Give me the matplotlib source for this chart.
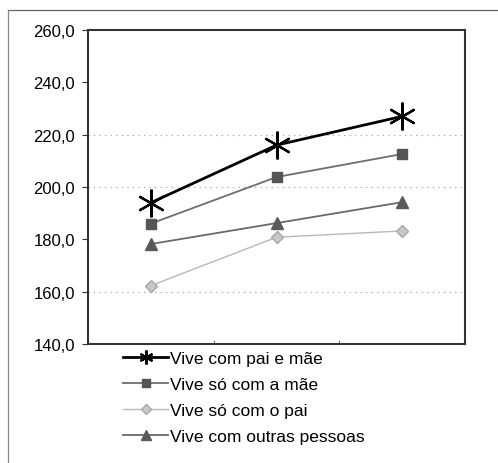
import matplotlib.pyplot as plt
import matplotlib.lines as mlines

plt.rcParams['font.family'] = ['Liberation Sans', 'DejaVu Sans']

periodos = ['1', '2', '3']
pai_e_mae = [194.0, 216.0, 227.0]
so_mae = [186.0, 203.8, 212.6]
so_pai = [162.3, 180.8, 183.2]
outras = [178.2, 186.2, 194.2]
linhas_grade = [160, 200, 220]

asterisco = (6, 2, 0)
series = [
    ('Vive com pai e mãe', pai_e_mae, dict(color='black', lw=2.0)),
    ('Vive só com a mãe', so_mae, dict(color='#6e6e6e', lw=1.3, marker='s', ms=7,
                                        mfc='#555555', mec='#555555')),
    ('Vive só com o pai', so_pai, dict(color='#b8b8b8', lw=1.0, marker='D', ms=6,
                                       mfc='#c8c8c8', mec='#a8a8a8')),
    ('Vive com outras pessoas', outras, dict(color='#6a6a6a', lw=1.3, marker='^', ms=9,
                                             mfc='#5a5a5a', mec='#5a5a5a')),
]

fig = plt.figure(figsize=(4.98, 4.64), dpi=100)
ax = fig.add_axes([88 / 498, 1 - 345 / 464, 377 / 498, 314 / 464])

x = list(range(len(periodos)))
handles = []
for nome, valores, estilo in series:
    ax.plot(x, valores, zorder=3, **estilo)
    if nome == 'Vive com pai e mãe':
        # asterisco grande nos pontos
        ax.plot(x, valores, ls='none', marker=asterisco, ms=20, mew=1.6,
                color='black', zorder=4)
        h = mlines.Line2D([], [], color='black', lw=2.0, marker=asterisco, ms=10, mew=1.6)
    else:
        leg = dict(estilo)
        if 'ms' in leg:
            leg['ms'] = leg['ms'] * 0.8
        h = mlines.Line2D([], [], **leg)
    h.set_label(nome)
    handles.append(h)

for g in linhas_grade:
    ax.axhline(g, color='#999999', ls=(0, (1, 4)), lw=0.8, zorder=1)

ax.set_xlim(-0.5, 2.5)
ax.set_ylim(140, 260)
ax.set_yticks(range(140, 261, 20))
ax.set_yticklabels([f'{v:.1f}'.replace('.', ',') for v in range(140, 261, 20)],
                   fontsize=12)
ax.set_xticks([-0.5, 0.5, 1.5, 2.5])
ax.set_xticklabels([])
ax.tick_params(axis='x', direction='in', length=3, color='#777777')
ax.tick_params(axis='y', direction='out', length=4.5, pad=5, color='#333333')
for s in ax.spines.values():
    s.set_color('#333333')
    s.set_linewidth(1.5)

fig.legend(handles=handles, loc='upper left', bbox_to_anchor=(116 / 498, 1 - 345 / 464),
           frameon=False, fontsize=12.5, handlelength=2.6, handletextpad=0.1,
           labelspacing=0.62, borderaxespad=0)

# moldura externa
fig.add_artist(mlines.Line2D([8 / 498, 1], [1 - 11 / 464, 1 - 11 / 464],
                             color='#666666', lw=0.9))
fig.add_artist(mlines.Line2D([8 / 498, 8 / 498], [0, 1 - 11 / 464],
                             color='#888888', lw=0.9))

fig.savefig('out.png', dpi=100)
